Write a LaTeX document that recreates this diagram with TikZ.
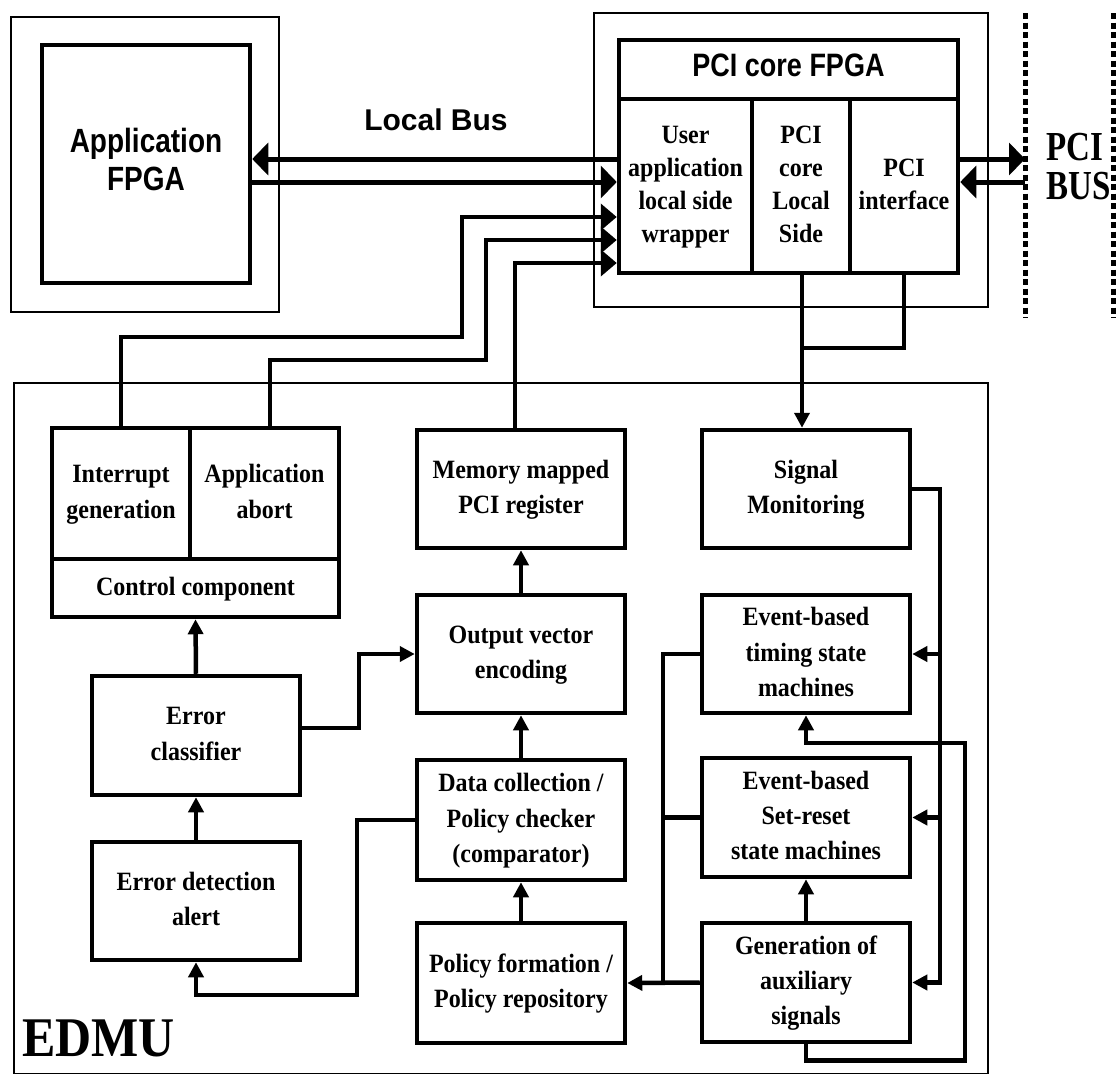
\documentclass[tikz,border=0pt]{standalone}
\usepackage{fontspec}
\usepackage{graphicx}
\setmainfont{Liberation Serif}
\newfontfamily\arialfont{Liberation Sans}
\usetikzlibrary{arrows.meta}
\newcommand{\st}[2]{\scalebox{1}[#1]{\begin{tabular}{@{}c@{}}#2\end{tabular}}}
\newcommand{\stl}[2]{\scalebox{1}[#1]{\begin{tabular}{@{}l@{}}#2\end{tabular}}}
\begin{document}
\begin{tikzpicture}[x=1pt,y=-1pt,
  blk/.style={draw, line width=4.5pt, inner sep=0pt, font=\fontsize{24}{32}\selectfont\bfseries},
  colfont/.style={font=\fontsize{24}{30}\selectfont\bfseries},
  thinbox/.style={draw, line width=2.4pt, inner sep=0pt},
  sansfont/.style={font=\arialfont\fontsize{#1}{31}\selectfont\bfseries},
  wire/.style={line width=4.5pt},
  arr/.style={wire, -{Triangle[length=15pt,width=15pt]}},
  barr/.style={line width=5pt, -{Triangle[length=16pt,width=32pt]}},
  warr/.style={wire, -{Triangle[length=16pt,width=26pt]}},
  dotline/.style={line width=5pt, dash pattern=on 6pt off 3.5pt},
  sz/.style 2 args={minimum width=#1pt, minimum height=#2pt}
]
\useasboundingbox (0,0) rectangle (1117,1074);

% Application FPGA
\node[thinbox, sz={268}{295}] (appouter) at (145,164.5) {};
\node[blk, sz={208}{238}, sansfont=28] (appfpga) at (146,164) {\st{1.2}{Application\\FPGA}};
\node[sansfont=30] (localbus) at (436,120) {Local Bus};

% PCI core FPGA
\node[thinbox, sz={394}{294}] (pciouter) at (791,160) {};
\node[blk, sz={339}{59}, sansfont=27] (pcihead) at (788.5,69.5) {\st{1.2}{PCI core FPGA}};
\node[blk, sz={133}{174}, colfont] (col1) at (685.5,186) {\st{1.1}{User\\application\\local side\\wrapper}};
\node[blk, sz={98}{174}, colfont] (col2) at (801,186) {\st{1.1}{PCI\\core\\Local\\Side}};
\node[blk, sz={108}{174}, colfont] (col3) at (904,186) {\st{1.1}{PCI\\interface}};

% PCI bus
\coordinate (d1t) at (1025,13); \coordinate (d1b) at (1025,318);
\coordinate (d2t) at (1113,13); \coordinate (d2b) at (1113,318);
\draw[dotline] (d1t) -- (d1b);
\draw[dotline] (d2t) -- (d2b);
\node[anchor=west, inner sep=0pt, font=\fontsize{33}{30}\selectfont\bfseries] (pcibus) at (1046,172) {\stl{1.25}{PCI\\BUS}};

% EDMU
\node[thinbox, sz={974}{691}] (edmu) at (501,728.5) {};
\node[anchor=west, inner sep=0pt, font=\fontsize{50}{50}\selectfont\bfseries] (edmulabel) at (22,1038) {\scalebox{1}[1.12]{EDMU}};

\node[blk, sz={138}{131}] (intr) at (121,493.5) {\st{1.1}{Interrupt\\generation}};
\node[blk, sz={149}{131}] (abort) at (264.5,493.5) {\st{1.1}{Application\\abort}};
\node[blk, sz={287}{58}] (ctrl) at (195.5,588) {\st{1.1}{Control component}};
\node[blk, sz={208}{119}] (classifier) at (196,735.5) {\st{1.1}{Error\\classifier}};
\node[blk, sz={208}{118}] (alert) at (196,901) {\st{1.1}{Error detection\\alert}};

\node[blk, sz={208}{118}] (memory) at (521,489) {\st{1.1}{Memory mapped\\PCI register}};
\node[blk, sz={208}{118}] (output) at (521,654) {\st{1.1}{Output vector\\encoding}};
\node[blk, sz={208}{120}] (data) at (521,820) {\st{1.1}{Data collection /\\Policy checker\\(comparator)}};
\node[blk, sz={208}{120}] (policy) at (521,983) {\st{1.1}{Policy formation /\\Policy repository}};

\node[blk, sz={208}{118}] (sigmon) at (806,489) {\st{1.1}{Signal\\Monitoring}};
\node[blk, sz={208}{118}] (timing) at (806,654) {\st{1.1}{Event-based\\timing state\\machines}};
\node[blk, sz={208}{119}] (setreset) at (806,817.5) {\st{1.1}{Event-based\\Set-reset\\state machines}};
\node[blk, sz={208}{119}] (gen) at (806,982.5) {\st{1.1}{Generation of\\auxiliary\\signals}};

% Local bus
\coordinate (lb1) at (0,159); \coordinate (lb2) at (0,182);
\draw[barr] (col1.west |- lb1) -- (appfpga.east |- lb1);
\draw[barr] (appfpga.east |- lb2) -- (col1.west |- lb2);

% PCI bus arrows
\coordinate (pb1) at (1025,159); \coordinate (pb2) at (1025,182);
\draw[barr] (col3.east |- pb1) -- (pb1);
\draw[barr] (pb2) -- (col3.east |- pb2);

% EDMU to PCI core wires
\coordinate (w1a) at (121,337); \coordinate (w1b) at (462,217);
\draw[warr] (w1a |- intr.north) -- (w1a) -| (w1b) -- (col1.west |- w1b);
\coordinate (w2a) at (270,360); \coordinate (w2b) at (486,240);
\draw[warr] (w2a |- abort.north) -- (w2a) -| (w2b) -- (col1.west |- w2b);
\coordinate (w3) at (515,263);
\draw[warr] (w3 |- memory.north) -- (w3) -- (col1.west |- w3);

% PCI core to signal monitoring
\coordinate (pj) at (802,348);
\draw[arr] (pj |- col2.south) -- (pj |- sigmon.north);
\draw[wire] (col3.south) |- (pj);

% EDMU internal
\draw[arr] (classifier.north) -- (ctrl.south);
\draw[arr] (alert.north) -- (classifier.south);
\coordinate (k1) at (359,728);
\draw[arr] (classifier.east |- k1) -- (k1) |- (output.west);
\coordinate (k2) at (357,995);
\draw[arr] (data.west) -| (k2) -| (alert.south);

\draw[arr] (output.north) -- (memory.south);
\draw[arr] (data.north) -- (output.south);
\draw[arr] (policy.north) -- (data.south);

\coordinate (busx) at (663,0);
\draw[wire] (timing.west) -| (busx |- gen.west);
\draw[wire] (setreset.west) -- (busx |- setreset.west);
\draw[arr] (gen.west) -- (policy.east);

\coordinate (monx) at (940,0);
\draw[arr] (sigmon.east) -| (monx |- gen.east) -- (gen.east);
\draw[arr] (monx |- timing.east) -- (timing.east);
\draw[arr] (monx |- setreset.east) -- (setreset.east);

\draw[arr] (gen.south) -- ++(0,16) -| (965,743) -| (timing.south);
\draw[arr] (gen.north) -- (setreset.south);
\end{tikzpicture}
\end{document}
